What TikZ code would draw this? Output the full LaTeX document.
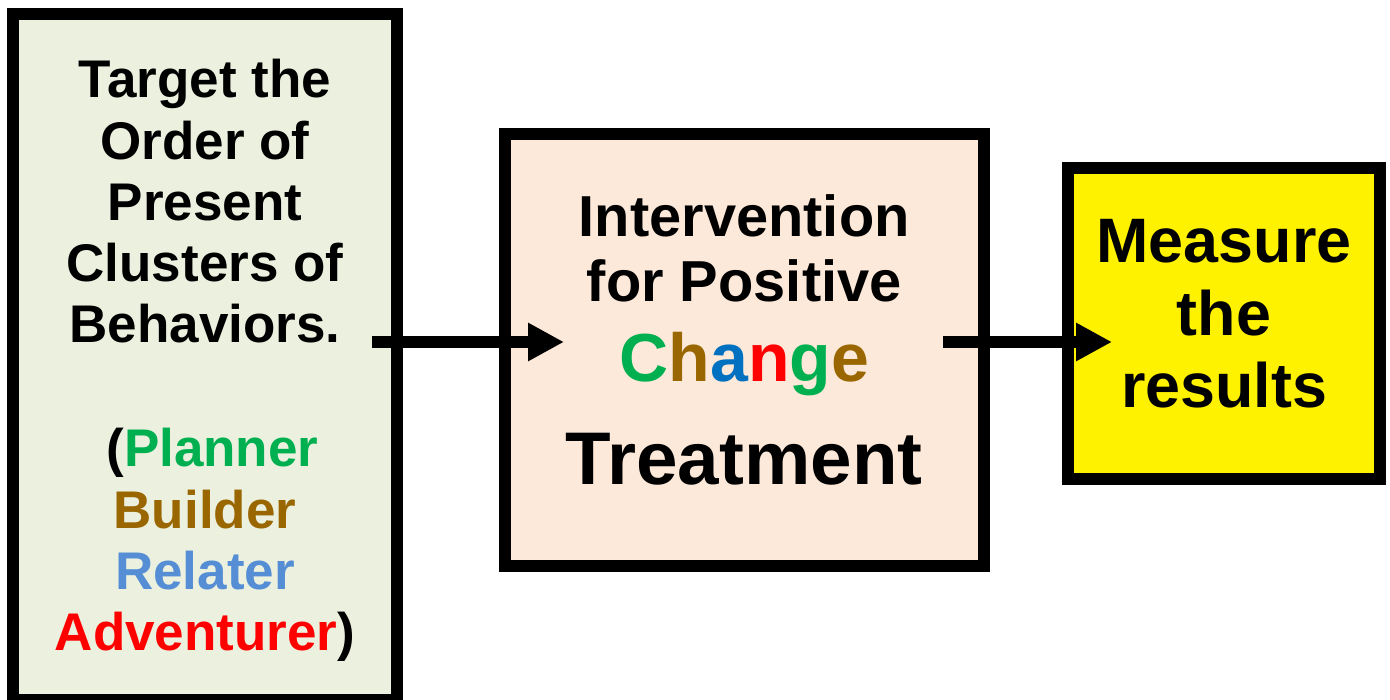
\documentclass[tikz,border=0pt]{standalone}
\usepackage{fontspec}
\setmainfont{Liberation Sans}
\usetikzlibrary{arrows.meta}
\definecolor{lgreen}{HTML}{EBF1DE}
\definecolor{peach}{HTML}{FDE9D9}
\definecolor{cgreen}{HTML}{00B050}
\definecolor{cbrown}{HTML}{996600}
\definecolor{cblue}{HTML}{0070C0}
\definecolor{clblue}{HTML}{558ED5}
\definecolor{cred}{HTML}{FF0000}
\begin{document}
\begin{tikzpicture}[x=1pt,y=-1pt,
  box/.style={draw=black,line width=12pt,rectangle,inner sep=0pt,outer sep=0pt},
  txt/.style={anchor=base,inner sep=0pt,outer sep=0pt},
  ltext/.style={txt,font=\fontsize{53}{61}\selectfont\bfseries},
  mtext/.style={txt,font=\fontsize{57.8}{65}\selectfont\bfseries},
  ctext/.style={txt,font=\fontsize{68}{77}\selectfont\bfseries},
  ttext/.style={txt,font=\fontsize{74.6}{85}\selectfont\bfseries},
  rtext/.style={txt,font=\fontsize{62.8}{72}\selectfont\bfseries},
  conn/.style={line width=12pt,-{Triangle[length=36pt,width=36pt]}}
]
\useasboundingbox (0,0) rectangle (1390,700);
% boxes
\node[box,fill=lgreen,minimum width=384pt,minimum height=686pt] (left) at (205,357) {};
\node[box,fill=peach,minimum width=479.5pt,minimum height=432pt] (mid) at (744.25,350) {};
\node[box,fill=yellow,minimum width=312pt,minimum height=311pt] (right) at (1224,323.5) {};
% left texts
\node[ltext] (l1) at (205,98) {Target the};
\node[ltext] (l2) at (205,159.5) {Order of};
\node[ltext] (l3) at (205,221) {Present};
\node[ltext] (l4) at (205,282) {Clusters of};
\node[ltext] (l5) at (205,343) {Behaviors.};
\node[ltext] (l6) at (205,467) {\hspace*{0.28em}(\textcolor{cgreen}{Planner}};
\node[ltext,text=cbrown] (l7) at (205,528) {Builder};
\node[ltext,text=clblue] (l8) at (205,589) {Relater};
\node[ltext] (l9) at (205,650) {\textcolor{cred}{Adventurer})};
% middle texts
\node[mtext] (m1) at (744.25,237) {Intervention};
\node[mtext] (m2) at (744.25,302) {for Positive};
\node[ctext] (m3) at (744.25,382) {\textcolor{cgreen}{C}\textcolor{cbrown}{h}\textcolor{cblue}{a}\textcolor{cred}{n}\textcolor{cgreen}{g}\textcolor{cbrown}{e}};
\node[ttext] (m4) at (744.25,485) {Treatment};
% right texts
\node[rtext] (r1) at (1224,263) {Measure};
\node[rtext] (r2) at (1224,335.5) {the};
\node[rtext] (r3) at (1224,408) {results};
% connectors
\coordinate (a1s) at (372,342);
\coordinate (a1e) at (564,342);
\coordinate (a2s) at (943,342);
\coordinate (a2e) at (1112,342);
\draw[conn] (a1s) -- (a1e);
\draw[conn] (a2s) -- (a2e);
\end{tikzpicture}
\end{document}
